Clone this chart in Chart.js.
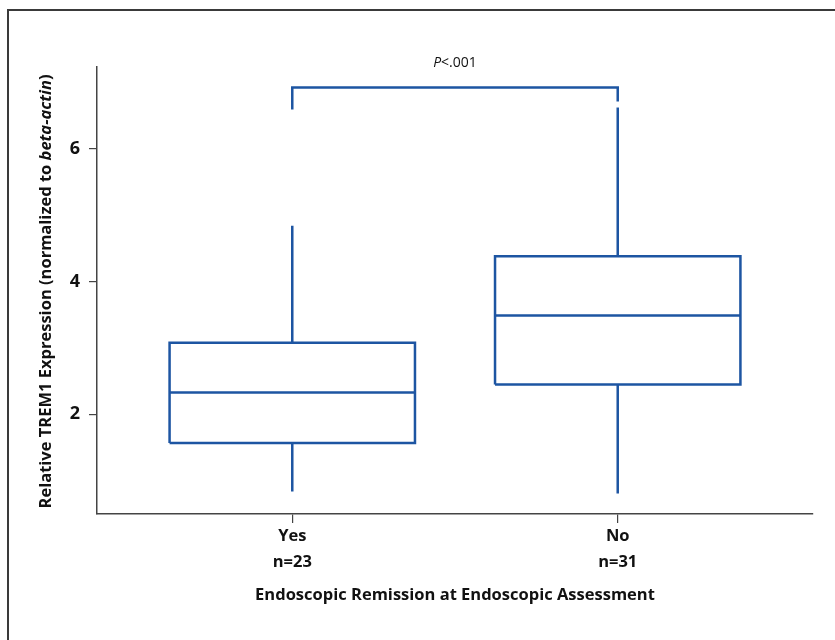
<!DOCTYPE html>
<html>
<head>
<meta charset="utf-8">
<script src="https://cdn.jsdelivr.net/npm/chart.js@4"></script>
<style>
  html, body { margin: 0; padding: 0; background: #fff; overflow: hidden; }
  canvas { display: block; }
</style>
</head>
<body>
<canvas id="chart" width="835" height="640"></canvas>
<script>
// data
const categories = ['Yes', 'No'];
const counts = [23, 31];
const whiskerLow = [0.84, 0.81];
const q1 = [1.57, 2.45];
const median = [2.33, 3.49];
const q3 = [3.08, 4.38];
const whiskerHigh = [4.84, 6.62];
const yTicks = [2, 4, 6];
// significance bracket: [left leg end, bar level, right leg end]
const bracket = [6.59, 6.92, 6.71];
const pLabel = '<.001';

const BLUE = '#1d55a2';
const AXIS = '#444';
const FONT = '"Open Sans", "DejaVu Sans", sans-serif';
const HALF = 0.377; // half box width in category units

function lineSet(points) {
    return {
        data: points,
        showLine: true,
        borderColor: BLUE,
        borderWidth: 2.5,
        pointRadius: 0,
        fill: false,
        tension: 0
    };
}

const datasets = [];
categories.forEach((c, i) => {
    // box outline
    datasets.push(lineSet([
        {x: i - HALF, y: q1[i]}, {x: i + HALF, y: q1[i]},
        {x: i + HALF, y: q3[i]}, {x: i - HALF, y: q3[i]},
        {x: i - HALF, y: q1[i]}
    ]));
    // median
    datasets.push(lineSet([{x: i - HALF, y: median[i]}, {x: i + HALF, y: median[i]}]));
    // whiskers
    datasets.push(lineSet([{x: i, y: q3[i]}, {x: i, y: whiskerHigh[i]}]));
    datasets.push(lineSet([{x: i, y: q1[i]}, {x: i, y: whiskerLow[i]}]));
});
datasets.push(lineSet([
    {x: 0, y: bracket[0]}, {x: 0, y: bracket[1]},
    {x: 1, y: bracket[1]}, {x: 1, y: bracket[2]}
]));

// figure frame (top and left edges only show in the crop)
const frame = {
    id: 'frame',
    beforeDraw(chart) {
        const ctx = chart.ctx;
        ctx.save();
        ctx.strokeStyle = '#3a3a3a';
        ctx.lineWidth = 2;
        ctx.beginPath();
        ctx.moveTo(8, chart.height);
        ctx.lineTo(8, 10);
        ctx.lineTo(chart.width, 10);
        ctx.stroke();
        ctx.restore();
    }
};

// y title with italic part and the P value above the bracket
const extraText = {
    id: 'extraText',
    afterDraw(chart) {
        const ctx = chart.ctx;
        const area = chart.chartArea;
        ctx.save();
        // y axis title
        const parts = [
            ['bold 16.5px ' + FONT, 'Relative TREM1 Expression (normalized to '],
            ['italic bold 16.5px ' + FONT, 'beta-actin'],
            ['bold 16.5px ' + FONT, ')']
        ];
        let total = 0;
        parts.forEach(p => { ctx.font = p[0]; total += ctx.measureText(p[1]).width; });
        ctx.translate(46, (area.top + area.bottom) / 2 + 1);
        ctx.rotate(-Math.PI / 2);
        ctx.fillStyle = '#111';
        ctx.textBaseline = 'middle';
        ctx.textAlign = 'left';
        let x = -total / 2;
        parts.forEach(p => {
            ctx.font = p[0];
            ctx.fillText(p[1], x, 0);
            x += ctx.measureText(p[1]).width;
        });
        ctx.restore();

        // P value
        ctx.save();
        const xs = chart.scales.x;
        const cx = xs.getPixelForValue(0.5);
        ctx.fillStyle = '#111';
        ctx.textBaseline = 'middle';
        ctx.font = 'italic 14px ' + FONT;
        const w1 = ctx.measureText('P').width;
        ctx.font = '14px ' + FONT;
        const w2 = ctx.measureText(pLabel).width;
        let px = cx - (w1 + w2) / 2;
        ctx.font = 'italic 14px ' + FONT;
        ctx.fillText('P', px, 63);
        ctx.font = '14px ' + FONT;
        ctx.fillText(pLabel, px + w1, 63);
        ctx.restore();
    }
};

new Chart(document.getElementById('chart'), {
    type: 'scatter',
    data: { datasets: datasets },
    options: {
        responsive: false,
        animation: false,
        layout: { padding: { left: 0, right: 22, top: 67, bottom: 0 } },
        plugins: {
            legend: { display: false },
            tooltip: { enabled: false }
        },
        scales: {
            x: {
                type: 'linear',
                min: -0.6,
                max: 1.6,
                afterBuildTicks: axis => { axis.ticks = categories.map((c, i) => ({value: i})); },
                afterFit: axis => { axis.height = 126; },
                ticks: {
                    color: '#111',
                    font: { family: FONT, size: 16.5, weight: 'bold', lineHeight: 1.55 },
                    padding: 1,
                    callback: (v) => [categories[v], 'n=' + counts[v]]
                },
                grid: { drawOnChartArea: false, drawTicks: true, tickLength: 9, color: AXIS, lineWidth: 1.2 },
                border: { color: AXIS, width: 1.5 },
                title: {
                    display: true,
                    text: 'Endoscopic Remission at Endoscopic Assessment',
                    color: '#111',
                    font: { family: FONT, size: 16.5, weight: 'bold' },
                    padding: { top: 0, bottom: 35 }
                }
            },
            y: {
                min: 0.5,
                max: 7.23,
                afterBuildTicks: axis => { axis.ticks = yTicks.map(v => ({value: v})); },
                afterFit: axis => { axis.width = 97; },
                ticks: {
                    color: '#111',
                    font: { family: FONT, size: 18, weight: 'bold' },
                    padding: 9
                },
                grid: { drawOnChartArea: false, drawTicks: true, tickLength: 8, color: AXIS, lineWidth: 1.2 },
                border: { color: AXIS, width: 1.5 }
            }
        }
    },
    plugins: [frame, extraText]
});
</script>
</body>
</html>
